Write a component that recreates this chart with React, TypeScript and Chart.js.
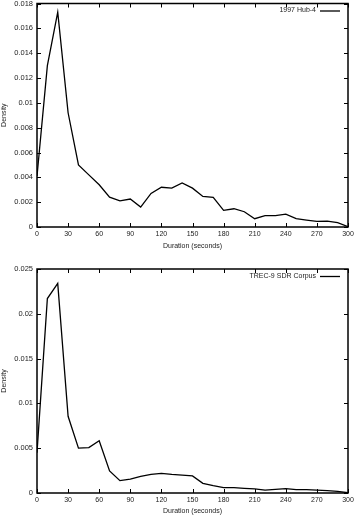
import React, { useEffect, useRef } from "react";
import { Chart, registerables } from "chart.js";

Chart.register(...registerables);

const durations = [0, 10, 20, 30, 40, 50, 60, 70, 80, 90, 100, 110, 120, 130, 140, 150, 160, 170, 180, 190, 200, 210, 220, 230, 240, 250, 260, 270, 280, 290, 300];

const hub4Density = [0.0041, 0.0130, 0.0173, 0.0092, 0.0050, 0.0042, 0.0034, 0.0024, 0.0021, 0.00225, 0.0016, 0.0027, 0.0032, 0.00313, 0.00355, 0.00313, 0.00246, 0.00238, 0.00134, 0.00147, 0.00123, 0.00067, 0.00091, 0.00091, 0.00104, 0.00067, 0.00056, 0.00046, 0.00048, 0.00035, 0.00003];

const trecDensity = [0.0045, 0.0217, 0.0234, 0.00856, 0.0050, 0.00506, 0.00584, 0.00246, 0.00138, 0.00156, 0.00186, 0.00208, 0.0022, 0.00208, 0.0020, 0.0019, 0.00108, 0.00082, 0.0006, 0.0006, 0.00052, 0.00045, 0.00033, 0.0004, 0.00048, 0.00037, 0.00037, 0.00033, 0.00026, 0.00019, 0.00004];

const xTickStep = 30;
const xMax = 300;
const hub4YMax = 0.018;
const hub4YStep = 0.002;
const trecYMax = 0.025;
const trecYStep = 0.005;

const FONT = "'Liberation Sans', Arial, sans-serif";

const framePlugin = {
  id: "gnuplotFrame",
  afterDatasetsDraw(chart: any) {
    const { ctx, chartArea } = chart;
    const { left, right, top, bottom } = chartArea;
    ctx.save();
    ctx.strokeStyle = "#000";
    ctx.lineWidth = 1.5;
    ctx.strokeRect(left, top, right - left, bottom - top);
    ctx.lineWidth = 1;
    const tl = 4;
    const xs = chart.scales.x;
    const ys = chart.scales.y;
    ctx.beginPath();
    xs.ticks.forEach((t: any) => {
      const px = Math.round(xs.getPixelForValue(t.value)) + 0.5;
      ctx.moveTo(px, bottom);
      ctx.lineTo(px, bottom - tl);
      ctx.moveTo(px, top);
      ctx.lineTo(px, top + tl);
    });
    ys.ticks.forEach((t: any) => {
      const py = Math.round(ys.getPixelForValue(t.value)) + 0.5;
      ctx.moveTo(left, py);
      ctx.lineTo(left + tl, py);
      ctx.moveTo(right, py);
      ctx.lineTo(right - tl, py);
    });
    ctx.stroke();

    // key (legend) in the top-right corner, gnuplot style: text then line sample
    const ds = chart.data.datasets[0];
    const ky = top + 7;
    ctx.font = `7px ${FONT}`;
    ctx.fillStyle = "#222";
    ctx.textAlign = "right";
    ctx.textBaseline = "middle";
    ctx.fillText(ds.label, right - 32, ky);
    ctx.strokeStyle = ds.borderColor;
    ctx.lineWidth = 1.3;
    ctx.beginPath();
    ctx.moveTo(right - 28, ky + 0.5);
    ctx.lineTo(right - 8, ky + 0.5);
    ctx.stroke();
    ctx.restore();
  },
};

function fmt(v: number) {
  return String(Number(Number(v).toFixed(4)));
}

function makeConfig(label: string, values: number[], yMax: number, yStep: number, padTop: number, xHeight: number, titlePadBottom: number) {
  return {
    type: "line" as const,
    data: {
      datasets: [
        {
          label,
          data: durations.map((d, i) => ({ x: d, y: values[i] })),
          borderColor: "#000",
          backgroundColor: "#000",
          borderWidth: 1.3,
          pointRadius: 0,
          tension: 0,
          fill: false,
        },
      ],
    },
    options: {
      animation: false,
      responsive: false,
      maintainAspectRatio: false,
      layout: { padding: { left: 0, right: 10, top: padTop, bottom: 0 } },
      plugins: {
        legend: { display: false },
        tooltip: { enabled: false },
      },
      scales: {
        x: {
          type: "linear",
          min: 0,
          max: xMax,
          ticks: { stepSize: xTickStep, padding: 3, color: "#222", font: { family: FONT, size: 7 }, maxRotation: 0 },
          grid: { display: false, drawTicks: false },
          border: { display: false },
          title: { display: true, text: "Duration (seconds)", color: "#222", font: { family: FONT, size: 7 }, padding: { top: 0, bottom: titlePadBottom } },
          afterFit: (s: any) => { s.height = xHeight; s.paddingLeft = 0; s.paddingRight = 0; },
        },
        y: {
          type: "linear",
          min: 0,
          max: yMax,
          ticks: { stepSize: yStep, padding: 4, color: "#222", font: { family: FONT, size: 7.5 }, callback: (v: any) => fmt(v) },
          grid: { display: false, drawTicks: false },
          border: { display: false },
          title: { display: true, text: "Density", color: "#222", font: { family: FONT, size: 7 }, padding: { top: 0, bottom: 0 } },
          afterFit: (s: any) => { s.width = 37; s.paddingTop = 0; s.paddingBottom = 0; },
        },
      },
    },
    plugins: [framePlugin],
  };
}

function Panel(props: { label: string; values: number[]; yMax: number; yStep: number; padTop: number; xHeight: number; titlePadBottom: number }) {
  const ref = useRef<HTMLCanvasElement | null>(null);
  useEffect(() => {
    if (!ref.current) return;
    const chart = new Chart(ref.current, makeConfig(props.label, props.values, props.yMax, props.yStep, props.padTop, props.xHeight, props.titlePadBottom) as any);
    return () => chart.destroy();
  }, []);
  return (
    <div style={{ width: 358, height: 258, position: "relative" }}>
      <canvas ref={ref} width={358} height={258} style={{ display: "block", width: 358, height: 258 }} />
    </div>
  );
}

export default function App() {
  return (
    <div style={{ position: "absolute", left: 0, top: 0, width: 358, height: 516, background: "#fff" }}>
      <Panel label="1997 Hub-4" values={hub4Density} yMax={hub4YMax} yStep={hub4YStep} padTop={3.5} xHeight={31} titlePadBottom={8} />
      <Panel label="TREC-9 SDR Corpus" values={trecDensity} yMax={trecYMax} yStep={trecYStep} padTop={11} xHeight={23} titlePadBottom={1} />
    </div>
  );
}
